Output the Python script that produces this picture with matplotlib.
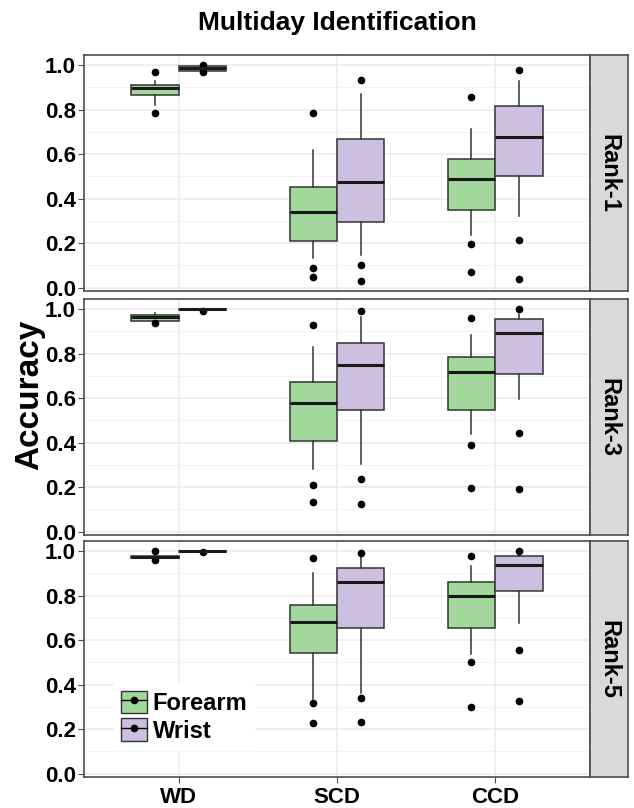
import matplotlib
matplotlib.use('Agg')
import matplotlib.pyplot as plt
from matplotlib.patches import Patch
from matplotlib.lines import Line2D

plt.rcParams['font.family'] = ['Liberation Sans', 'DejaVu Sans']
plt.rcParams['font.weight'] = 'bold'

groups = ['WD', 'SCD', 'CCD']
ranks = ['Rank-1', 'Rank-3', 'Rank-5']
devices = ['Forearm', 'Wrist']
colors = {'Forearm': '#a3d89d', 'Wrist': '#cdbfe0'}

# box stats per rank, per device: one entry per group (WD, SCD, CCD)
whislo = {
    'Rank-1': {'Forearm': [0.82, 0.133, 0.236], 'Wrist': [0.975, 0.148, 0.323]},
    'Rank-3': {'Forearm': [0.947, 0.283, 0.438], 'Wrist': [0.995, 0.306, 0.594]},
    'Rank-5': {'Forearm': [0.968, 0.334, 0.536], 'Wrist': [0.997, 0.362, 0.675]},
}
q1 = {
    'Rank-1': {'Forearm': [0.865, 0.211, 0.347], 'Wrist': [0.975, 0.295, 0.502]},
    'Rank-3': {'Forearm': [0.947, 0.406, 0.548], 'Wrist': [0.996, 0.548, 0.708]},
    'Rank-5': {'Forearm': [0.968, 0.542, 0.652], 'Wrist': [0.997, 0.652, 0.82]},
}
med = {
    'Rank-1': {'Forearm': [0.895, 0.339, 0.486], 'Wrist': [0.985, 0.473, 0.677]},
    'Rank-3': {'Forearm': [0.965, 0.576, 0.718], 'Wrist': [1.0, 0.747, 0.891]},
    'Rank-5': {'Forearm': [0.974, 0.679, 0.796], 'Wrist': [1.0, 0.859, 0.936]},
}
q3 = {
    'Rank-1': {'Forearm': [0.91, 0.452, 0.577], 'Wrist': [0.994, 0.667, 0.814]},
    'Rank-3': {'Forearm': [0.975, 0.674, 0.783], 'Wrist': [1.0, 0.847, 0.955]},
    'Rank-5': {'Forearm': [0.979, 0.758, 0.861], 'Wrist': [1.0, 0.924, 0.976]},
}
whishi = {
    'Rank-1': {'Forearm': [0.93, 0.62, 0.714], 'Wrist': [0.995, 0.868, 0.926]},
    'Rank-3': {'Forearm': [0.98, 0.829, 0.882], 'Wrist': [1.0, 0.965, 0.977]},
    'Rank-5': {'Forearm': [0.985, 0.902, 0.932], 'Wrist': [1.0, 0.974, 0.994]},
}
fliers = {
    'Rank-1': {'Forearm': [[0.97, 0.785], [0.785, 0.089, 0.05], [0.855, 0.197, 0.07]],
               'Wrist': [[1.0, 0.968], [0.933, 0.103, 0.03], [0.979, 0.215, 0.038]]},
    'Rank-3': {'Forearm': [[0.938], [0.929, 0.21, 0.135], [0.959, 0.388, 0.197]],
               'Wrist': [[0.993], [0.991, 0.236, 0.123], [1.0, 0.442, 0.192]]},
    'Rank-5': {'Forearm': [[1.0, 0.958], [0.967, 0.316, 0.227], [0.979, 0.501, 0.301]],
               'Wrist': [[0.994], [0.992, 0.34, 0.233], [1.0, 0.557, 0.328]]},
}

fig = plt.figure(figsize=(6.34, 8.08), dpi=100)
W, H = 634, 808
left, right = 84 / W, 590 / W
strip_w = 38 / W
tops = [55, 299, 541]
ph = 236

border = '#4d4d4d'
for r, rank in enumerate(ranks):
    bottom = 1 - (tops[r] + ph) / H
    ax = fig.add_axes([left, bottom, right - left, ph / H])
    for d, dev in enumerate(devices):
        stats = []
        for g in range(len(groups)):
            stats.append(dict(whislo=whislo[rank][dev][g], q1=q1[rank][dev][g],
                              med=med[rank][dev][g], q3=q3[rank][dev][g],
                              whishi=whishi[rank][dev][g], fliers=fliers[rank][dev][g]))
        pos = [g + 1 + (d - 0.5) * 0.3 for g in range(len(groups))]
        ax.bxp(stats, positions=pos, widths=0.3, patch_artist=True, showcaps=False,
               boxprops=dict(facecolor=colors[dev], edgecolor='#333333', linewidth=1.1),
               medianprops=dict(color='#1a1a1a', linewidth=2.2),
               whiskerprops=dict(color='#333333', linewidth=1.1),
               flierprops=dict(marker='o', markerfacecolor='black', markeredgecolor='black',
                               markersize=4.5, linestyle='none'),
               zorder=3)
    ax.set_xlim(0.4, 3.6)
    ax.set_ylim(-0.015, 1.045)
    ax.set_yticks([0, 0.2, 0.4, 0.6, 0.8, 1.0])
    ax.set_yticklabels(['0.0', '0.2', '0.4', '0.6', '0.8', '1.0'])
    ax.set_yticks([0.1, 0.3, 0.5, 0.7, 0.9], minor=True)
    ax.set_xticks([1, 2, 3])
    ax.grid(True, which='major', color='#ebebeb', linewidth=1.1, zorder=0)
    ax.grid(True, which='minor', axis='y', color='#f2f2f2', linewidth=0.6, zorder=0)
    ax.set_axisbelow(True)
    ax.tick_params(axis='y', which='major', labelsize=16, length=4, color=border, pad=2)
    ax.tick_params(axis='y', which='minor', length=0)
    if r < 2:
        ax.tick_params(axis='x', length=0, labelbottom=False)
    else:
        ax.set_xticklabels(groups)
        ax.tick_params(axis='x', labelsize=16, length=4, color=border, pad=3)
    for s in ax.spines.values():
        s.set_color(border)
        s.set_linewidth(1.2)

    sax = fig.add_axes([right, bottom, strip_w, ph / H])
    sax.set_facecolor('#d9d9d9')
    sax.set_xticks([])
    sax.set_yticks([])
    for s in sax.spines.values():
        s.set_color(border)
        s.set_linewidth(1.2)
    sax.text(0.5, 0.5, rank, rotation=-90, ha='center', va='center',
             fontsize=17, fontweight='bold', transform=sax.transAxes)

    if r == 2:
        handles = [(Patch(facecolor=colors[dev], edgecolor='#333333'),
                    Line2D([], [], color='black', marker='o', markersize=4.5, linewidth=1))
                   for dev in devices]
        leg = ax.legend(handles, devices, loc='lower left', bbox_to_anchor=(0.035, 0.065),
                        prop=dict(size=17, weight='bold'), frameon=True, fancybox=False,
                        handlelength=1.1, handleheight=1.1, handletextpad=0.25,
                        labelspacing=0.15, borderpad=0.3, edgecolor='white', framealpha=1)

fig.text((left + right) / 2, 1 - 23 / H, 'Multiday Identification', ha='center',
         va='center', fontsize=19, fontweight='bold')
fig.text(30 / W, 1 - 395 / H, 'Accuracy', rotation=90, ha='center', va='center',
         fontsize=24, fontweight='bold')

fig.savefig('out.png', dpi=100)
